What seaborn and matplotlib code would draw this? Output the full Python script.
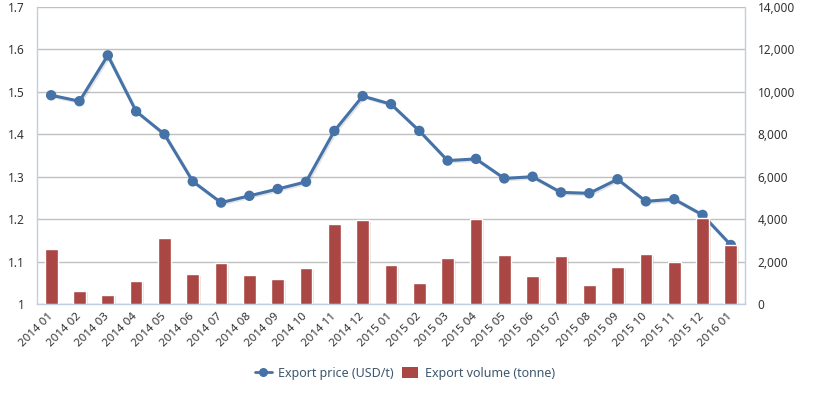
import matplotlib
matplotlib.use('Agg')
import matplotlib.pyplot as plt
import seaborn as sns
import numpy as np
import pandas as pd
from matplotlib import patheffects as pe
from matplotlib.lines import Line2D
from matplotlib.patches import Patch
from matplotlib.ticker import FuncFormatter

months = ['2014 01', '2014 02', '2014 03', '2014 04', '2014 05', '2014 06', '2014 07',
          '2014 08', '2014 09', '2014 10', '2014 11', '2014 12', '2015 01', '2015 02',
          '2015 03', '2015 04', '2015 05', '2015 06', '2015 07', '2015 08', '2015 09',
          '2015 10', '2015 11', '2015 12', '2016 01']
price = [1.492, 1.478, 1.586, 1.454, 1.400, 1.289, 1.239, 1.255, 1.271, 1.288, 1.408,
         1.490, 1.471, 1.408, 1.338, 1.342, 1.296, 1.300, 1.263, 1.261, 1.294, 1.242,
         1.247, 1.210, 1.139]
volume = [2580, 630, 440, 1100, 3100, 1400, 1920, 1350, 1160, 1680, 3760, 3940, 1820,
          1010, 2150, 3990, 2290, 1300, 2250, 880, 1730, 2340, 1960, 4040, 2770]
price_ticks = [1.0, 1.1, 1.2, 1.3, 1.4, 1.5, 1.6, 1.7]
price_tick_labels = ['1', '1.1', '1.2', '1.3', '1.4', '1.5', '1.6', '1.7']
volume_ticks = [0, 2000, 4000, 6000, 8000, 10000, 12000, 14000]
series_names = ['Export price (USD/t)', 'Export volume (tonne)']

LINE_C = '#4572A7'
BAR_C = '#AA4643'
TXT_C = '#3E576F'

sns.set_theme(style='white')
plt.rcParams['font.family'] = ['Noto Sans', 'DejaVu Sans']

df = pd.DataFrame({'x': np.arange(len(months)), 'month': months,
                   'price': price, 'volume': volume})

fig = plt.figure(figsize=(8.26, 3.95), dpi=100)
W, H = 826, 395
ax = fig.add_axes([37 / W, 1 - 304 / H, (745 - 37) / W, 297 / H])
ax2 = ax.twinx()

sns.lineplot(data=df, x='x', y='price', ax=ax, color=LINE_C, lw=2.2,
             marker='o', markersize=7.5, markeredgewidth=0,
             path_effects=[pe.SimpleLineShadow(offset=(1, -1), alpha=0.12), pe.Normal()])

sns.barplot(data=df, x='x', y='volume', ax=ax2, native_scale=True, color=BAR_C,
            saturation=1, width=0.45, edgecolor='white', linewidth=1)
for p in ax2.patches:
    p.set_path_effects([pe.SimplePatchShadow(offset=(1.2, -1.2), alpha=0.12), pe.Normal()])

ax.set_xlim(-0.5, len(months) - 0.5)
ax.set_ylim(1.0, 1.7)
ax2.set_ylim(0, 14000)

ax.set_yticks(price_ticks)
ax.set_yticklabels(price_tick_labels)
ax2.set_yticks(volume_ticks)
ax2.yaxis.set_major_formatter(FuncFormatter(lambda v, _: f'{int(v):,}'))

ax.set_xticks(np.arange(len(months)))
ax.set_xticklabels(months, rotation=45, ha='right', va='center', rotation_mode='anchor')
ax.set_xticks(np.arange(-0.5, len(months), 1), minor=True)

ax.tick_params(axis='x', which='major', length=0, pad=8, labelsize=8.3, labelcolor='#333333')
ax.tick_params(axis='x', which='minor', direction='in', length=5, width=1, color='#C0D0E0')
ax.tick_params(axis='y', length=0, pad=9, labelsize=8.5, labelcolor='#333333')
ax2.tick_params(axis='y', length=0, pad=9, labelsize=8.5, labelcolor='#333333')

ax.grid(axis='y', color='#C0C0C0', lw=1)
ax.grid(axis='x', visible=False)
ax.set_axisbelow(True)

ax.spines['top'].set_visible(False)
for s in ['left', 'right', 'bottom']:
    ax.spines[s].set_color('#C0D0E0')
    ax.spines[s].set_linewidth(1)
for s in ax2.spines.values():
    s.set_visible(False)

for a in (ax, ax2):
    a.set_xlabel('')
    a.set_ylabel('')

handles = [Line2D([0], [0], color=LINE_C, lw=2, marker='o', markersize=6.5, markeredgewidth=0),
           Patch(facecolor=BAR_C, edgecolor='none')]
leg = fig.legend(handles, series_names, loc='center', bbox_to_anchor=(405 / W, 1 - 373 / H),
                 ncol=2, frameon=False, fontsize=9, handlelength=1.3, handleheight=1.0,
                 columnspacing=0.7, handletextpad=0.5)
for t in leg.get_texts():
    t.set_color(TXT_C)

fig.savefig('out.png', dpi=100)
